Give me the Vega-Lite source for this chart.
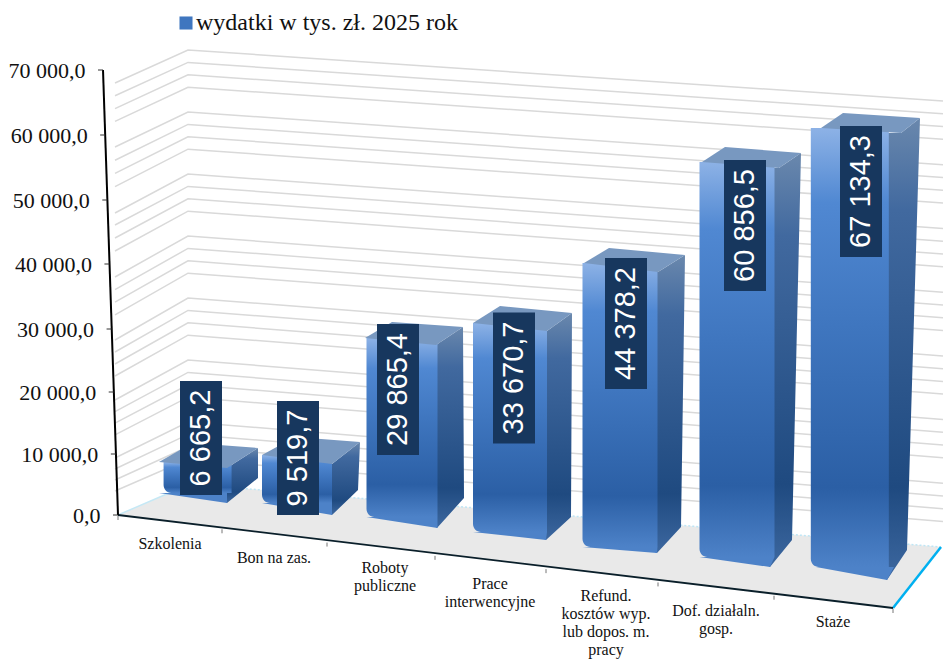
{"$schema":"https://vega.github.io/schema/vega-lite/v6.json","width":943,"height":660,"padding":0,"autosize":{"type":"none"},"background":"white","config":{"view":{"stroke":null},"locale":{"number":{"decimal":",","thousands":" ","grouping":[3],"currency":["","zł"]}}},"datasets":{"wydatki":[{"kategoria":"Szkolenia","etykieta":"Szkolenia","nr":1,"baza":-1,"wydatki":6665.2,"seria":"wydatki w tys. zł. 2025 rok"},{"kategoria":"Bon na zas.","etykieta":"Bon na zas.","nr":2,"baza":-2,"wydatki":9519.7,"seria":"wydatki w tys. zł. 2025 rok"},{"kategoria":"Roboty publiczne","etykieta":"Roboty\npubliczne","nr":3,"baza":-3,"wydatki":29865.4,"seria":"wydatki w tys. zł. 2025 rok"},{"kategoria":"Prace interwencyjne","etykieta":"Prace\ninterwencyjne","nr":4,"baza":-4,"wydatki":33670.7,"seria":"wydatki w tys. zł. 2025 rok"},{"kategoria":"Refund. kosztów wyp. lub dopos. m. pracy","etykieta":"Refund.\nkosztów wyp.\nlub dopos. m.\npracy","nr":5,"baza":-5,"wydatki":44378.2,"seria":"wydatki w tys. zł. 2025 rok"},{"kategoria":"Dof. działaln. gosp.","etykieta":"Dof. działaln.\ngosp.","nr":6,"baza":-6,"wydatki":60856.5,"seria":"wydatki w tys. zł. 2025 rok"},{"kategoria":"Staże","etykieta":"Staże","nr":7,"baza":-7,"wydatki":67134.3,"seria":"wydatki w tys. zł. 2025 rok"}],"siatka":[{"poziom":4000,"punkt":[0,1,2],"odczyt":[3775,8777,-1026]},{"poziom":6000,"punkt":[0,1,2],"odczyt":[5505,10728,978]},{"poziom":8000,"punkt":[0,1,2],"odczyt":[7236,12678,2982]},{"poziom":10000,"punkt":[0,1,2],"odczyt":[8966,14629,4986]},{"poziom":14000,"punkt":[0,1,2],"odczyt":[12615,18530,8994]},{"poziom":16000,"punkt":[0,1,2],"odczyt":[14440,20481,10998]},{"poziom":18000,"punkt":[0,1,2],"odczyt":[16265,22431,13002]},{"poziom":20000,"punkt":[0,1,2],"odczyt":[18090,24382,15006]},{"poziom":24000,"punkt":[0,1,2],"odczyt":[21865,28283,19014]},{"poziom":26000,"punkt":[0,1,2],"odczyt":[23752,30234,21018]},{"poziom":28000,"punkt":[0,1,2],"odczyt":[25640,32184,23022]},{"poziom":30000,"punkt":[0,1,2],"odczyt":[27528,34135,25026]},{"poziom":34000,"punkt":[0,1,2],"odczyt":[31491,38036,29034]},{"poziom":36000,"punkt":[0,1,2],"odczyt":[33473,39987,31038]},{"poziom":38000,"punkt":[0,1,2],"odczyt":[35455,41937,33042]},{"poziom":40000,"punkt":[0,1,2],"odczyt":[37437,43888,35046]},{"poziom":44000,"punkt":[0,1,2],"odczyt":[41527,47789,39054]},{"poziom":46000,"punkt":[0,1,2],"odczyt":[43572,49740,41058]},{"poziom":48000,"punkt":[0,1,2],"odczyt":[45617,51690,43062]},{"poziom":50000,"punkt":[0,1,2],"odczyt":[47505,53641,45066]},{"poziom":54000,"punkt":[0,1,2],"odczyt":[51658,57542,49074]},{"poziom":56000,"punkt":[0,1,2],"odczyt":[53734,59493,51078]},{"poziom":58000,"punkt":[0,1,2],"odczyt":[55810,61443,53082]},{"poziom":60000,"punkt":[0,1,2],"odczyt":[57886,63394,55086]},{"poziom":64000,"punkt":[0,1,2],"odczyt":[61914,67295,59094]},{"poziom":66000,"punkt":[0,1,2],"odczyt":[63928,69246,61098]},{"poziom":68000,"punkt":[0,1,2],"odczyt":[65941,71196,63102]},{"poziom":70000,"punkt":[0,1,2],"odczyt":[67954,73147,65106]}],"podloga":[{"rog":1,"gora":0,"dol":0},{"rog":2,"gora":4876,"dol":-1353},{"rog":3,"gora":-4404,"dol":-14629},{"rog":4,"gora":-5034,"dol":-5034}],"podzialka":[{"wartosc":0},{"wartosc":10000},{"wartosc":20000},{"wartosc":30000},{"wartosc":40000},{"wartosc":50000},{"wartosc":60000},{"wartosc":70000}],"granice":[{"granica":0},{"granica":1},{"granica":2},{"granica":3},{"granica":4},{"granica":5},{"granica":6},{"granica":7}]},"resolve":{"scale":{"x":"independent","y":"independent","shape":"independent","size":"independent","color":"independent"}},"layer":[{"data":{"name":"podloga"},"mark":{"type":"area","fill":"#e9e9e9","stroke":null},"encoding":{"x":{"field":"rog","type":"quantitative","axis":null,"scale":{"domain":[1,2,3,4],"range":[118,190,893,941]}},"y":{"field":"gora","type":"quantitative","stack":null,"axis":null,"scale":{"domain":[0,70000],"range":[515,70]}},"y2":{"field":"dol"}}},{"data":{"name":"siatka"},"transform":[{"flatten":["punkt","odczyt"]}],"mark":{"type":"line","stroke":"#d9d9d9","strokeWidth":1.5},"encoding":{"x":{"field":"punkt","type":"quantitative","axis":null,"scale":{"domain":[0,1,2],"range":[115,188,943]}},"y":{"field":"odczyt","type":"quantitative","axis":null,"scale":{"domain":[0,70000],"range":[515,70]}},"detail":{"field":"poziom"}}},{"data":{"values":[{"rog":2,"y":4876},{"rog":4,"y":-5034}]},"mark":{"type":"line","stroke":"#bfe6f5","strokeWidth":1.5,"strokeDash":[2,2]},"encoding":{"x":{"field":"rog","type":"quantitative","axis":null,"scale":{"domain":[1,2,3,4],"range":[118,190,893,941]}},"y":{"field":"y","type":"quantitative","axis":null,"scale":{"domain":[0,70000],"range":[515,70]}}}},{"data":{"values":[{"rog":1,"y":0},{"rog":2,"y":4876}]},"mark":{"type":"line","stroke":"#c5e8f5","strokeWidth":1.5},"encoding":{"x":{"field":"rog","type":"quantitative","axis":null,"scale":{"domain":[1,2,3,4],"range":[118,190,893,941]}},"y":{"field":"y","type":"quantitative","axis":null,"scale":{"domain":[0,70000],"range":[515,70]}}}},{"data":{"values":[{"rog":3,"y":-14629},{"rog":4,"y":-5034}]},"mark":{"type":"line","stroke":"#00b0f0","strokeWidth":2.5},"encoding":{"x":{"field":"rog","type":"quantitative","axis":null,"scale":{"domain":[1,2,3,4],"range":[118,190,893,941]}},"y":{"field":"y","type":"quantitative","axis":null,"scale":{"domain":[0,70000],"range":[515,70]}}}},{"data":{"values":[{"rog":1,"y":0},{"rog":3,"y":-14629}]},"mark":{"type":"line","stroke":"#0a1f2a","strokeWidth":1.8},"encoding":{"x":{"field":"rog","type":"quantitative","axis":null,"scale":{"domain":[1,2,3,4],"range":[118,190,893,941]}},"y":{"field":"y","type":"quantitative","axis":null,"scale":{"domain":[0,70000],"range":[515,70]}}}},{"data":{"values":[{"koniec":0,"y":70000},{"koniec":1,"y":0}]},"mark":{"type":"line","stroke":"#000000","strokeWidth":2},"encoding":{"x":{"field":"koniec","type":"quantitative","axis":null,"scale":{"domain":[0,1],"range":[103,118]}},"y":{"field":"y","type":"quantitative","axis":null,"scale":{"domain":[0,70000],"range":[515,70]}}}},{"data":{"name":"podzialka"},"mark":{"type":"point","filled":false,"stroke":"#333333","strokeWidth":1,"opacity":1,"size":4,"shape":"M0,0H5"},"encoding":{"x":{"field":"wartosc","type":"quantitative","axis":null,"scale":{"domain":[0,70000],"range":[113,98]}},"y":{"field":"wartosc","type":"quantitative","axis":{"values":[0,10000,20000,30000,40000,50000,60000,70000],"format":",.1f","title":null,"grid":false,"domain":false,"ticks":false,"offset":-100,"labelPadding":0,"labelFont":"Liberation Serif","labelFontSize":22,"labelColor":"#111111","encoding":{"labels":{"dx":{"value":{"signal":"-15*datum.value/70000"}}}}},"scale":{"domain":[0,10000,20000,30000,40000,50000,60000,70000],"range":[515,454,392,329,264,200,135,70]}}}},{"data":{"name":"granice"},"mark":{"type":"point","filled":false,"stroke":"#777777","strokeWidth":1,"opacity":1,"size":4,"shape":"M0,0V4"},"encoding":{"x":{"field":"granica","type":"quantitative","axis":null,"scale":{"domain":[0,1,2,3,4,5,6,7],"range":[118,222,327,435,546,658,774,893]}},"y":{"field":"granica","type":"quantitative","axis":null,"scale":{"domain":[0,7],"range":[516,609]}}}},{"data":{"name":"wydatki"},"mark":{"type":"point","filled":true,"opacity":1,"size":4,"strokeWidth":0,"fill":{"gradient":"linear","x1":0,"y1":0,"x2":0,"y2":1,"stops":[{"offset":0,"color":"#6a88ad"},{"offset":0.2,"color":"#41699f"},{"offset":0.8,"color":"#1f4a80"},{"offset":1,"color":"#3d68a0"}]}},"encoding":{"x":{"field":"nr","type":"quantitative","axis":null,"scale":{"domain":[1,2,3,4,5,6,7],"range":[193,297,402,510,620,737,855]}},"y":{"field":"wydatki","type":"quantitative","axis":null,"scale":{"domain":[6665.2,9519.7,29865.4,33670.7,44378.2,60856.5,67134.3],"range":[462,455,338,323,263,162,128]}},"shape":{"field":"nr","type":"nominal","legend":null,"scale":{"domain":[1,2,3,4,5,6,7],"range":["M20,6L34,6L65,-14L65,16L34,41L20,31Z","M21,9L35,9L63,-13L61,35L35,60L21,48Z","M20,7L34,7L61,-11L62,160L35,190L20,179Z","M23,8L37,8L62,-10L61,194L36,217L22,209Z","M24,9L38,9L65,-8L61,264L37,290L23,284Z","M28,6L42,6L64,-9L55,378L33,405L19,395Z","M32,5L46,5L65,-10L52,422L32,452L18,439Z"]}}}},{"data":{"name":"wydatki"},"mark":{"type":"bar","orient":"vertical","cornerRadiusBottomLeft":8,"fill":{"gradient":"linear","x1":0,"y1":0,"x2":0,"y2":1,"stops":[{"offset":0,"color":"#8db2e6"},{"offset":0.17,"color":"#5088d2"},{"offset":0.45,"color":"#3f76bf"},{"offset":0.82,"color":"#2b5fa5"},{"offset":1,"color":"#4d82c8"}]}},"encoding":{"x":{"field":"nr","type":"quantitative","axis":null,"scale":{"domain":[1,2,3,4,5,6,7],"range":[193,297,402,510,620,737,855]}},"y":{"field":"wydatki","type":"quantitative","stack":null,"axis":null,"scale":{"domain":[-7,-6,-5,-4,-3,-2,-1,6665.2,9519.7,29865.4,33670.7,44378.2,60856.5,67134.3],"range":[567,557,547,532,517,503,493,462,455,338,323,263,162,128]}},"y2":{"field":"baza"},"size":{"field":"nr","type":"quantitative","legend":null,"scale":{"domain":[1,2,3,4,5,6,7],"range":[68,70,71,74,75,75,78]}}}},{"data":{"name":"wydatki"},"mark":{"type":"point","filled":true,"opacity":1,"size":4,"strokeWidth":0,"fill":"#4d82c8"},"encoding":{"x":{"field":"nr","type":"quantitative","axis":null,"scale":{"domain":[1,2,3,4,5,6,7],"range":[193,297,402,510,620,737,855]}},"y":{"field":"wydatki","type":"quantitative","axis":null,"scale":{"domain":[6665.2,9519.7,29865.4,33670.7,44378.2,60856.5,67134.3],"range":[462,455,338,323,263,162,128]}},"shape":{"field":"nr","type":"nominal","legend":null,"scale":{"domain":[1,2,3,4,5,6,7],"range":["M-34,31L34,31L34,41Z","M-35,48L35,48L35,60Z","M-35.5,179L35.5,179L35.5,190Z","M-37,209L37,209L36,217Z","M-37.5,284L37.5,284L37,290Z","M-37.5,395L37.5,395L33,405Z","M-39,439L39,439L32,452Z"]}}}},{"data":{"name":"wydatki"},"mark":{"type":"point","filled":true,"opacity":1,"size":4,"strokeWidth":0,"fill":"#7898c0"},"encoding":{"x":{"field":"nr","type":"quantitative","axis":null,"scale":{"domain":[1,2,3,4,5,6,7],"range":[193,297,402,510,620,737,855]}},"y":{"field":"wydatki","type":"quantitative","axis":null,"scale":{"domain":[6665.2,9519.7,29865.4,33670.7,44378.2,60856.5,67134.3],"range":[462,455,338,323,263,162,128]}},"shape":{"field":"nr","type":"nominal","legend":null,"scale":{"domain":[1,2,3,4,5,6,7],"range":["M-34,0L34,6L65,-14L-1,-19Z","M-35,0L35,9L63,-13L-2,-18Z","M-37,0L34,7L61,-11L-10,-16Z","M-37,0L37,8L62,-10L-10,-17Z","M-36,0L38,9L65,-8L-11,-15Z","M-35,0L42,6L64,-9L-12,-15Z","M-34,0L46,5L65,-10L-12,-15Z"]}}}},{"data":{"name":"wydatki"},"mark":{"type":"point","filled":true,"opacity":1,"size":4,"strokeWidth":0,"fill":"#17375e"},"encoding":{"x":{"field":"nr","type":"quantitative","axis":null,"scale":{"domain":[1,2,3,4,5,6,7],"range":[201,298,398,514,626,745,861]}},"y":{"field":"wydatki","type":"quantitative","axis":null,"scale":{"domain":[6665.2,9519.7,29865.4,33670.7,44378.2,60856.5,67134.3],"range":[438,458,389.5,378,323.5,225.5,191.5]}},"shape":{"field":"nr","type":"nominal","legend":null,"scale":{"domain":[1,2,3,4,5,6,7],"range":["M-21,-57H21V57H-21Z","M-21,-57H21V57H-21Z","M-21,-65.5H21V65.5H-21Z","M-21,-65.5H21V65.5H-21Z","M-21,-65.5H21V65.5H-21Z","M-21,-65.5H21V65.5H-21Z","M-21,-65.5H21V65.5H-21Z"]}}}},{"data":{"name":"wydatki"},"mark":{"type":"text","angle":270,"align":"center","baseline":"middle","font":"Liberation Sans","fontSize":29,"fill":"#ffffff"},"encoding":{"x":{"field":"nr","type":"quantitative","axis":null,"scale":{"domain":[1,2,3,4,5,6,7],"range":[201,298,398,514,626,745,861]}},"y":{"field":"wydatki","type":"quantitative","axis":null,"scale":{"domain":[6665.2,9519.7,29865.4,33670.7,44378.2,60856.5,67134.3],"range":[438,458,389.5,378,323.5,225.5,191.5]}},"text":{"field":"wydatki","type":"quantitative","format":",.1f"}}},{"data":{"name":"wydatki"},"mark":{"type":"text","align":"center","baseline":"middle","font":"Liberation Serif","fontSize":16,"lineBreak":"\n","lineHeight":18,"fill":"#111111"},"encoding":{"x":{"field":"nr","type":"quantitative","axis":null,"scale":{"domain":[1,2,3,4,5,6,7],"range":[170,274,385,490,606,716,833]}},"y":{"field":"nr","type":"quantitative","axis":null,"scale":{"domain":[1,2,3,4,5,6,7],"range":[544,558,568,584,596,611,622]}},"text":{"field":"etykieta"}}},{"data":{"name":"wydatki"},"mark":{"type":"point","filled":true,"opacity":1,"size":0,"shape":"square"},"encoding":{"x":{"field":"nr","type":"quantitative","axis":null,"scale":{"domain":[1,7],"range":[193,855]}},"y":{"field":"nr","type":"quantitative","axis":null,"scale":{"domain":[1,7],"range":[30,30]}},"color":{"field":"seria","type":"nominal","scale":{"range":["#3f76bf"]},"legend":{"title":null,"orient":"none","legendX":174,"legendY":11,"symbolType":"square","symbolSize":170,"symbolStrokeWidth":0,"labelFont":"Liberation Serif","labelFontSize":24,"labelColor":"#111111","labelOffset":-2,"labelLimit":400}}}}]}
